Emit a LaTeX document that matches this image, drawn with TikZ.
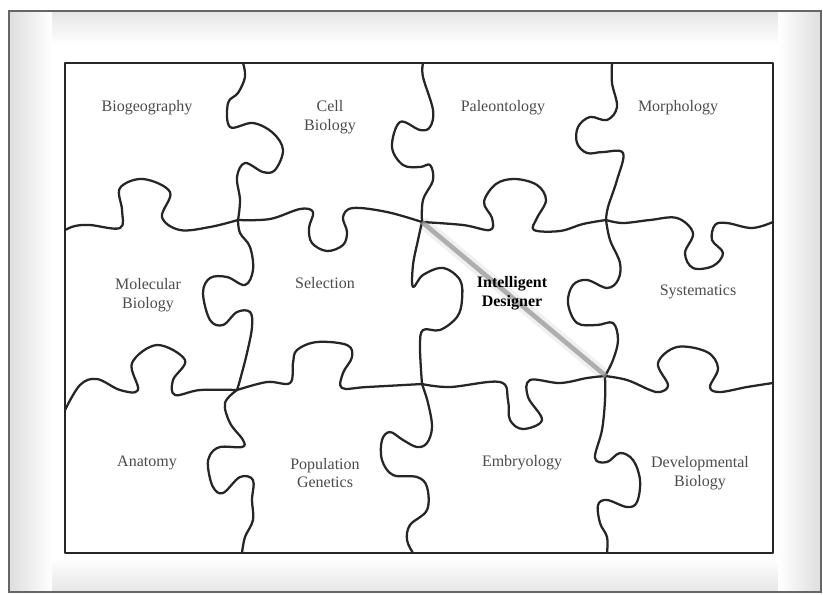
\documentclass[tikz,border=0pt]{standalone}
\usepackage{fontspec}
\setmainfont{Liberation Serif}
\begin{document}
\begin{tikzpicture}[
        x=0.75pt, y=-0.75pt,
        cut/.style={line width=1.7pt, draw=black!85, line join=round, line cap=round},
        piece label/.style={align=center, font=\fontsize{12}{14.2}\selectfont, text=black!70},
        designer label/.style={piece label, font=\fontsize{12}{14.2}\selectfont\bfseries, text=black}
    ]
        \useasboundingbox (0,0) rectangle (823,594);

        % Frame with soft inner shadow
        \shade[top color=black!10, bottom color=white] (9,11) rectangle (821,45);
        \shade[top color=white, bottom color=black!10] (9,558) rectangle (821,592);
        \shade[left color=black!13, right color=white] (9,11) rectangle (52,592);
        \shade[left color=white, right color=black!13] (778,11) rectangle (821,592);
        \draw[black!60, line width=1.3pt] (9,11) rectangle (821,592);

        % Puzzle border
        \fill[white] (65,63) rectangle (773,553);
        \draw[cut, line cap=butt] (65,63) rectangle (773,553);

        % Row 1 cuts
        \draw[cut] plot[smooth, tension=0.6] coordinates {(65,230) (75,226) (90,225) (120,228) (122,210) (120,188) (143,179) (170,192) (162,217) (180,230) (210,227) (238,220)};
        \draw[cut] plot[smooth, tension=0.6] coordinates {(238,220) (270,219) (300,209) (313,212) (309,228) (312,243) (327,251) (343,245) (347,232) (343,217) (353,208) (387,212) (422,222)};
        \draw[cut] plot[smooth, tension=0.6] coordinates {(422,222) (463,225) (490,230) (492,218) (484,202) (496,184) (515,179) (537,185) (546,200) (537,218) (534,230) (560,231) (583,224) (606,220)};
        \draw[cut] plot[smooth, tension=0.6] coordinates {(606,220) (623,223) (650,220) (677,218) (693,233) (685,253) (693,268) (713,266) (723,253) (712,240) (715,225) (727,223) (752,228) (773,222)};

        % Row 2 cuts
        \draw[cut] plot[smooth, tension=0.6] coordinates {(65,410) (80,385) (97,379) (120,390) (138,390) (132,363) (157,345) (185,360) (173,380) (175,395) (200,390) (237,390)};
        \draw[cut] plot[smooth, tension=0.6] coordinates {(237,390) (267,382) (290,383) (293,363) (297,350) (317,342) (347,345) (352,357) (343,373) (342,388) (367,387) (422,384)};
        \draw[cut] plot[smooth, tension=0.6] coordinates {(422,384) (450,387) (500,382) (508,400) (510,420) (523,429) (542,420) (528,397) (530,380) (560,383) (587,378) (605,376)};
        \draw[cut] plot[smooth, tension=0.6] coordinates {(605,376) (627,380) (650,390) (660,392) (668,385) (658,363) (677,347) (707,352) (718,368) (710,387) (720,392) (747,387) (773,383)};

        % Column 1 cuts
        \draw[cut] plot[smooth, tension=0.6] coordinates {(243,63) (245,77) (238,93) (228,103) (230,127) (253,123) (273,133) (283,150) (275,170) (263,172) (245,163) (237,177) (240,200) (238,220)};
        \draw[cut] plot[smooth, tension=0.6] coordinates {(238,220) (240,233) (250,247) (253,270) (245,285) (227,277) (210,278) (203,293) (210,320) (223,325) (237,312) (250,312) (252,327) (247,353) (240,380) (237,390)};
        \draw[cut] plot[smooth, tension=0.6] coordinates {(237,390) (225,403) (230,423) (243,440) (242,447) (220,447) (210,455) (208,467) (213,487) (223,493) (240,477) (253,480) (252,500) (253,520) (245,537) (242,553)};

        % Column 2 cuts
        \draw[cut] plot[smooth, tension=0.6] coordinates {(423,63) (423,77) (433,110) (430,127) (420,130) (400,122) (392,147) (403,165) (420,167) (430,165) (433,180) (423,200) (422,222)};
        \draw[cut] plot[smooth, tension=0.6] coordinates {(422,222) (418,240) (413,265) (413,287) (423,275) (443,268) (460,280) (462,300) (457,317) (440,330) (423,330) (420,347) (422,384)};
        \draw[cut] plot[smooth, tension=0.6] coordinates {(422,384) (428,403) (432,427) (427,443) (417,447) (403,440) (390,432) (382,440) (382,460) (393,475) (417,477) (427,487) (427,510) (410,525) (407,540) (413,553)};

        % Column 3 cuts
        \draw[cut] plot[smooth, tension=0.6] coordinates {(612,63) (612,83) (617,107) (607,120) (590,117) (578,127) (577,143) (587,153) (603,152) (623,153) (617,180) (608,207) (606,220)};
        \draw[cut] plot[smooth, tension=0.6] coordinates {(606,220) (610,240) (620,263) (618,280) (607,288) (587,280) (573,285) (568,303) (577,323) (597,325) (613,323) (618,340) (613,360) (605,376)};
        \draw[cut] plot[smooth, tension=0.6] coordinates {(605,376) (605,400) (602,430) (595,458) (607,462) (620,453) (633,460) (640,480) (637,502) (627,507) (607,500) (598,505) (600,523) (607,537) (607,553)};

        % Diagonal bar across the centre piece
        \coordinate (id_top) at (422,222);
        \coordinate (id_bot) at (606,376);
        \draw[black, opacity=0.06, line width=9pt] (id_top) -- (id_bot);
        \draw[black!40, opacity=0.75, line width=3.5pt] (id_top) -- (id_bot);

        % Labels
        \node[piece label] (biogeo) at (147,108) {Biogeography};
        \node[piece label] (cell) at (330,117) {Cell\\Biology};
        \node[piece label] (paleo) at (503,108) {Paleontology};
        \node[piece label] (morph) at (678,108) {Morphology};
        \node[piece label] (molec) at (148,295) {Molecular\\Biology};
        \node[piece label] (select) at (325,283) {Selection};
        \node[designer label] (designer) at (512,293) {Intelligent\\Designer};
        \node[piece label] (system) at (698,292) {Systematics};
        \node[piece label] (anat) at (147,463) {Anatomy};
        \node[piece label] (popgen) at (325,473) {Population\\Genetics};
        \node[piece label] (embryo) at (522,463) {Embryology};
        \node[piece label] (devbio) at (700,473) {Developmental\\Biology};
    \end{tikzpicture}
\end{document}
